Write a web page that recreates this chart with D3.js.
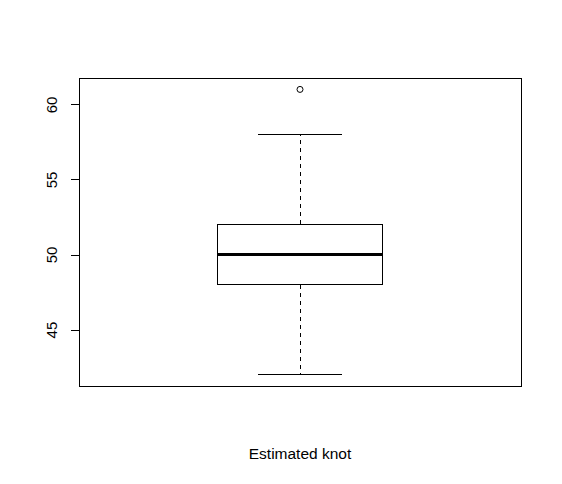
<html>
<head>
    <style>
        body { margin: 0; background-color: white; }
        svg text { font-family: Arial, "Liberation Sans", sans-serif; fill: black; }
        line, rect { shape-rendering: crispEdges; }
    </style>
    <script src="https://cdn.jsdelivr.net/npm/d3@7"></script>
</head>
<body>
<svg id="chart"></svg>
<script>
    // five-number summary
    let groups = ["Estimated knot"]
    let lowerWhisker = [42]
    let lowerHinge = [48]
    let medians = [50]
    let upperHinge = [52]
    let upperWhisker = [58]
    let outliers = [61]
    let yTicks = [45, 50, 55, 60]

    let width = 562, height = 484
    let margin = {left: 79, right: 41, top: 78, bottom: 98}

    let svg = d3.select("#chart")
        .attr("width", width)
        .attr("height", height)

    let y = d3.scaleLinear()
        .domain([41.24, 61.76])
        .range([height - margin.bottom, margin.top])

    let x = d3.scaleLinear()
        .domain([0.5, 1.5])
        .range([margin.left, width - margin.right])

    let halfBox = 0.186, halfCap = 0.094

    // box frame
    svg.append("rect")
        .attr("x", margin.left + 0.5)
        .attr("y", margin.top + 0.5)
        .attr("width", width - margin.left - margin.right)
        .attr("height", height - margin.top - margin.bottom)
        .attr("fill", "none")
        .attr("stroke", "black")

    // y axis
    let yAxis = svg.append("g")
        .attr("transform", "translate(" + (margin.left + 0.5) + ",0)")
        .call(d3.axisLeft(y).tickValues(yTicks).tickSize(9).tickFormat(d3.format("d")))
    yAxis.select(".domain").remove()
    yAxis.selectAll(".tick line").attr("stroke", "black")
    yAxis.selectAll(".tick text")
        .attr("x", 0).attr("y", 0)
        .attr("dy", 0)
        .attr("transform", "translate(-23,0) rotate(-90)")
        .attr("text-anchor", "middle")
        .style("font-size", "15px")
        .style("font-family", "Arial, 'Liberation Sans', sans-serif")

    let boxes = svg.selectAll("g.box")
        .data(groups)
        .enter().append("g")
        .attr("class", "box")

    // whiskers
    boxes.append("line")
        .attr("x1", (d, i) => x(i + 1)).attr("x2", (d, i) => x(i + 1))
        .attr("y1", (d, i) => y(upperHinge[i])).attr("y2", (d, i) => y(upperWhisker[i]))
        .attr("stroke", "black").attr("stroke-dasharray", "4,4")
    boxes.append("line")
        .attr("x1", (d, i) => x(i + 1)).attr("x2", (d, i) => x(i + 1))
        .attr("y1", (d, i) => y(lowerHinge[i])).attr("y2", (d, i) => y(lowerWhisker[i]))
        .attr("stroke", "black").attr("stroke-dasharray", "4,4")

    // caps
    boxes.append("line")
        .attr("x1", (d, i) => x(i + 1 - halfCap)).attr("x2", (d, i) => x(i + 1 + halfCap))
        .attr("y1", (d, i) => y(upperWhisker[i])).attr("y2", (d, i) => y(upperWhisker[i]))
        .attr("stroke", "black")
    boxes.append("line")
        .attr("x1", (d, i) => x(i + 1 - halfCap)).attr("x2", (d, i) => x(i + 1 + halfCap))
        .attr("y1", (d, i) => y(lowerWhisker[i])).attr("y2", (d, i) => y(lowerWhisker[i]))
        .attr("stroke", "black")

    // box
    boxes.append("rect")
        .attr("x", (d, i) => x(i + 1 - halfBox))
        .attr("y", (d, i) => y(upperHinge[i]))
        .attr("width", (d, i) => x(i + 1 + halfBox) - x(i + 1 - halfBox))
        .attr("height", (d, i) => y(lowerHinge[i]) - y(upperHinge[i]))
        .attr("fill", "white")
        .attr("stroke", "black")

    // median
    boxes.append("line")
        .attr("x1", (d, i) => x(i + 1 - halfBox)).attr("x2", (d, i) => x(i + 1 + halfBox))
        .attr("y1", (d, i) => y(medians[i])).attr("y2", (d, i) => y(medians[i]))
        .attr("stroke", "black").attr("stroke-width", 3)

    // outliers
    svg.selectAll("circle.out")
        .data(outliers)
        .enter().append("circle")
        .attr("class", "out")
        .attr("cx", x(1))
        .attr("cy", d => y(d))
        .attr("r", 3)
        .attr("fill", "none")
        .attr("stroke", "black")

    // x label
    svg.append("text")
        .attr("x", x(1))
        .attr("y", 459)
        .attr("text-anchor", "middle")
        .style("font-size", "15.5px")
        .text(groups[0])
</script>
</body>
</html>
